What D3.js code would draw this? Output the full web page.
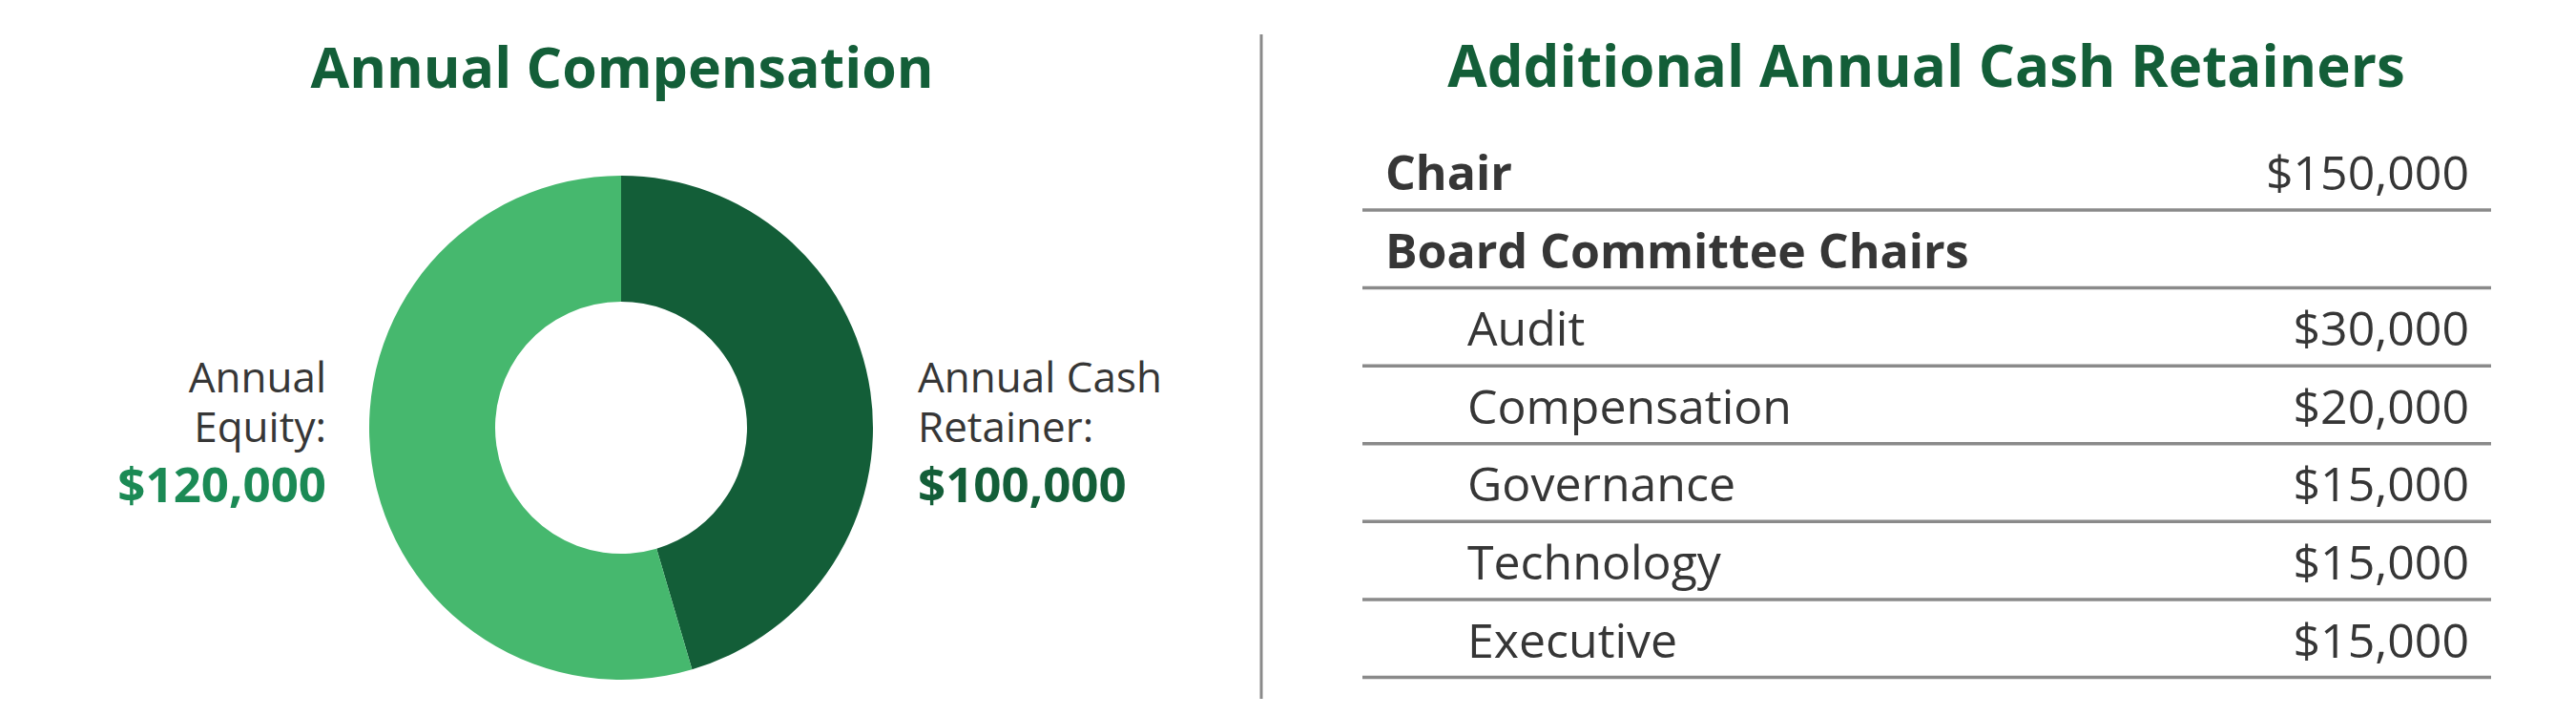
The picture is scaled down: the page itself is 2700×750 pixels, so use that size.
<!DOCTYPE html>
<html>
<head>
<meta charset="utf-8">
<script src="https://cdn.jsdelivr.net/npm/d3@7"></script>
<style>
  body { margin: 0; background: #fff; }
  svg text { font-family: "Open Sans", "Noto Sans", sans-serif; }
</style>
</head>
<body>
<div id="chart"></div>
<script>
// data
var sliceNames = ["Annual Cash Retainer", "Annual Equity"];
var sliceValues = [100000, 120000];

var rowLabels = ["Chair", "Board Committee Chairs", "Audit", "Compensation", "Governance", "Technology", "Executive"];
var rowValues = [150000, null, 30000, 20000, 15000, 15000, 15000];
var rowLevel = [0, 0, 1, 1, 1, 1, 1];

var svgWidth = 2700;
var svgHeight = 750;

var darkGreen = "#135e38";
var lightGreen = "#46b86e";
var midGreen = "#1b8a55";
var textGray = "#363636";
var ruleGray = "#8a8a8a";

var fmt = d3.format("$,");

var svg = d3.select("#chart").append("svg")
    .attr("width", svgWidth)
    .attr("height", svgHeight);

// Left panel: donut
//==================
svg.append("text")
  .attr("x", 652)
  .attr("y", 92)
  .attr("text-anchor", "middle")
  .attr("font-size", 59)
  .attr("font-weight", 700)
  .attr("fill", darkGreen)
  .text("Annual Compensation");

var cx = 651, cy = 448;
var pie = d3.pie().sort(null).value(d => d);
var arc = d3.arc().innerRadius(132).outerRadius(264);

var donut = svg.append("g")
    .attr("transform", `translate(${cx}, ${cy})`);

donut.selectAll("path")
  .data(pie(sliceValues))
  .enter()
  .append("path")
  .attr("d", arc)
  .attr("fill", (d, i) => i === 0 ? darkGreen : lightGreen);

// labels next to the donut
var labelLines = [["Annual Cash", "Retainer:"], ["Annual", "Equity:"]];
var labelX = [962, 342];
var labelAnchor = ["start", "end"];
var valueColor = [darkGreen, midGreen];

sliceNames.forEach(function(name, i) {
  var g = svg.append("g");
  var label = g.append("text")
    .attr("x", labelX[i])
    .attr("y", 411)
    .attr("text-anchor", labelAnchor[i])
    .attr("font-size", 44)
    .attr("fill", textGray);
  labelLines[i].forEach(function(line, j) {
    label.append("tspan")
      .attr("x", labelX[i])
      .attr("dy", j === 0 ? 0 : 52)
      .text(line);
  });
  g.append("text")
    .attr("x", labelX[i])
    .attr("y", 526)
    .attr("text-anchor", labelAnchor[i])
    .attr("font-size", 51)
    .attr("font-weight", 700)
    .attr("fill", valueColor[i])
    .text(fmt(sliceValues[i]));
});

// divider
svg.append("line")
  .attr("x1", 1322).attr("x2", 1322)
  .attr("y1", 36).attr("y2", 732)
  .attr("stroke", ruleGray)
  .attr("stroke-width", 3);

// Right panel: table
//===================
svg.append("text")
  .attr("x", 2019)
  .attr("y", 91)
  .attr("text-anchor", "middle")
  .attr("font-size", 60)
  .attr("font-weight", 700)
  .attr("fill", darkGreen)
  .text("Additional Annual Cash Retainers");

var tableLeft = 1428, tableRight = 2611;
var rowY = d3.scaleLinear()
    .domain([0, rowLabels.length - 1])
    .range([220, 709.5]);

var rows = svg.selectAll("g.row")
  .data(rowLabels)
  .enter()
  .append("g")
  .attr("class", "row")
  .attr("transform", (d, i) => `translate(0, ${rowY(i)})`);

rows.append("line")
  .attr("x1", tableLeft).attr("x2", tableRight)
  .attr("y1", 0).attr("y2", 0)
  .attr("stroke", ruleGray)
  .attr("stroke-width", 3.5);

rows.append("text")
  .attr("x", (d, i) => rowLevel[i] === 0 ? 1452 : 1538)
  .attr("y", -21)
  .attr("font-size", 50)
  .attr("font-weight", (d, i) => rowLevel[i] === 0 ? 700 : 400)
  .attr("fill", textGray)
  .text(d => d);

rows.append("text")
  .attr("x", 2588)
  .attr("y", -21)
  .attr("text-anchor", "end")
  .attr("font-size", 50)
  .attr("fill", textGray)
  .text((d, i) => rowValues[i] == null ? "" : fmt(rowValues[i]));
</script>
</body>
</html>
